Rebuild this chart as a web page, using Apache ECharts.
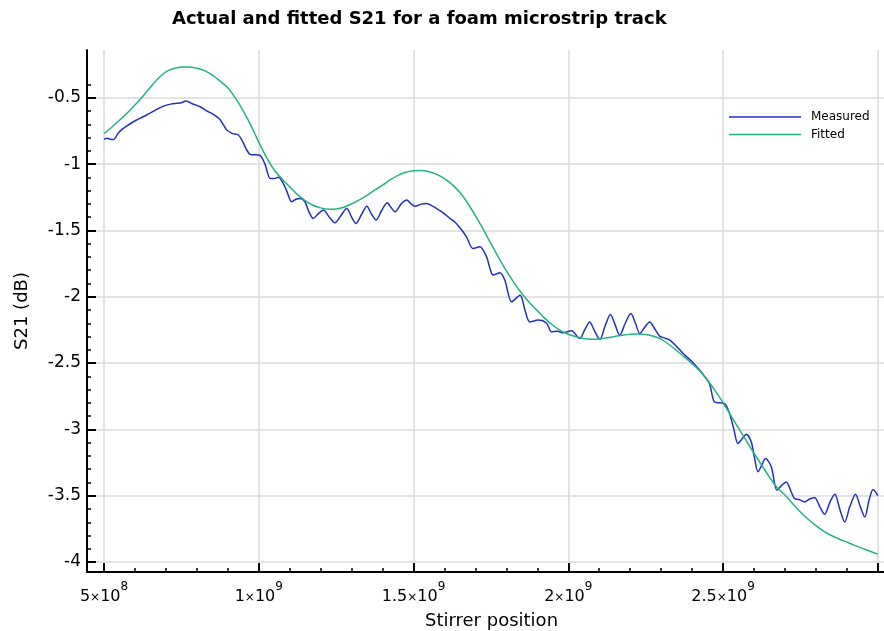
<!DOCTYPE html>
<html>
<head>
<meta charset="utf-8">
<script src="https://cdn.jsdelivr.net/npm/echarts@6/dist/echarts.min.js"></script>
<style>
  html, body { margin: 0; background: #fff; }
  #main { width: 884px; height: 631px; }
</style>
</head>
<body>
<div id="main"></div>
<script>
// stirrer position in units of 1e8
var measPos = [5.00, 5.10, 5.20, 5.31, 5.45, 5.58, 5.75, 5.95, 6.15, 6.38, 6.65, 6.92, 7.15, 7.35, 7.50, 7.65, 7.85,
  8.10, 8.30, 8.53, 8.75, 8.97, 9.15, 9.34, 9.50, 9.61, 9.75, 9.90, 10.04, 10.20, 10.37, 10.50, 10.63, 10.74, 10.90,
  11.06, 11.20, 11.33, 11.49, 11.62, 11.76, 11.92, 12.09, 12.28, 12.46, 12.65, 12.84, 13.00, 13.14, 13.32, 13.49,
  13.65, 13.79, 13.97, 14.15, 14.28, 14.40, 14.60, 14.78, 14.92, 15.05, 15.25, 15.42, 15.60, 15.75, 16.00, 16.18,
  16.35, 16.50, 16.71, 16.92, 17.14, 17.36, 17.47, 17.57, 17.79, 17.95, 18.17, 18.44, 18.60, 18.76, 19.03, 19.30,
  19.46, 19.65, 19.83, 20.10, 20.37, 20.53, 20.69, 20.85, 21.02, 21.19, 21.36, 21.51, 21.66, 21.84, 22.02, 22.17,
  22.31, 22.47, 22.63, 22.80, 22.95, 23.10, 23.28, 23.50, 23.71, 24.00, 24.24, 24.40, 24.56, 24.72, 24.88, 25.05,
  25.21, 25.35, 25.48, 25.62, 25.75, 25.91, 26.02, 26.13, 26.25, 26.37, 26.56, 26.74, 26.90, 27.04, 27.20, 27.31,
  27.47, 27.63, 27.80, 27.96, 28.12, 28.28, 28.45, 28.61, 28.77, 28.93, 29.10, 29.28, 29.43, 29.58, 29.72, 29.85, 30.00];
var measS21 = [-0.814, -0.806, -0.812, -0.814, -0.77, -0.738, -0.71, -0.681, -0.655, -0.630, -0.595, -0.563, -0.548, -0.542, -0.538, -0.525, -0.545,
  -0.568, -0.597, -0.625, -0.665, -0.744, -0.770, -0.781, -0.84, -0.894, -0.930, -0.930, -0.935, -1.00, -1.108, -1.108, -1.10, -1.125, -1.20,
  -1.284, -1.265, -1.259, -1.284, -1.36, -1.41, -1.375, -1.347, -1.40, -1.443, -1.39, -1.335, -1.40, -1.447, -1.38, -1.318,
  -1.38, -1.422, -1.35, -1.292, -1.33, -1.36, -1.30, -1.271, -1.30, -1.318, -1.302, -1.297, -1.315, -1.335, -1.375, -1.41,
  -1.44, -1.48, -1.548, -1.636, -1.624, -1.70, -1.787, -1.837, -1.82, -1.875, -2.038, -1.988, -2.10, -2.19, -2.176, -2.20,
  -2.265, -2.26, -2.272, -2.257, -2.315, -2.25, -2.19, -2.26, -2.322, -2.22, -2.133, -2.21, -2.29, -2.20, -2.126, -2.20,
  -2.277, -2.23, -2.19, -2.245, -2.297, -2.31, -2.327, -2.375, -2.428, -2.49, -2.553, -2.60, -2.654, -2.793, -2.80, -2.805,
  -2.88, -3.00, -3.106, -3.07, -3.036, -3.094, -3.22, -3.32, -3.27, -3.22, -3.283, -3.459, -3.42, -3.396, -3.47, -3.521,
  -3.53, -3.547, -3.525, -3.516, -3.58, -3.64, -3.55, -3.489, -3.60, -3.698, -3.58, -3.489, -3.58, -3.66, -3.53, -3.453, -3.50];

var fitPos = [5.00, 5.25, 5.50, 5.75, 6.00, 6.25, 6.50, 6.75, 7.00, 7.25, 7.50, 7.75, 8.00, 8.25, 8.50, 8.75,
  9.00, 9.25, 9.50, 9.75, 10.00, 10.25, 10.50, 10.75, 11.00, 11.25, 11.50, 11.75, 12.00, 12.25, 12.50, 12.75,
  13.00, 13.25, 13.50, 13.75, 14.00, 14.25, 14.50, 14.75, 15.00, 15.25, 15.50, 15.75, 16.00, 16.25, 16.50, 16.75,
  17.00, 17.25, 17.50, 17.75, 18.00, 18.25, 18.50, 18.75, 19.00, 19.25, 19.50, 19.75, 20.00, 20.25, 20.50, 20.75,
  21.00, 21.25, 21.50, 21.75, 22.00, 22.25, 22.50, 22.75, 23.00, 23.25, 23.50, 23.75, 24.00, 24.25, 24.50, 24.75,
  25.00, 25.25, 25.50, 25.75, 26.00, 26.25, 26.50, 26.75, 27.00, 27.25, 27.50, 27.75, 28.00, 28.25, 28.50, 28.75,
  29.00, 29.25, 29.50, 29.75, 30.00];
var fitS21 = [-0.770, -0.722, -0.670, -0.615, -0.555, -0.490, -0.420, -0.355, -0.305, -0.280, -0.268, -0.268, -0.278, -0.295, -0.330, -0.375,
  -0.425, -0.505, -0.600, -0.710, -0.835, -0.950, -1.045, -1.112, -1.172, -1.230, -1.275, -1.310, -1.330, -1.340, -1.338, -1.325,
  -1.300, -1.270, -1.235, -1.195, -1.158, -1.118, -1.085, -1.062, -1.050, -1.048, -1.058, -1.078, -1.110, -1.155, -1.215, -1.295,
  -1.390, -1.490, -1.600, -1.705, -1.805, -1.895, -1.975, -2.045, -2.105, -2.165, -2.215, -2.255, -2.283, -2.302, -2.315, -2.320,
  -2.318, -2.310, -2.300, -2.290, -2.283, -2.280, -2.285, -2.298, -2.320, -2.360, -2.405, -2.455, -2.505, -2.560, -2.630, -2.710,
  -2.800, -2.895, -2.990, -3.085, -3.180, -3.270, -3.360, -3.440, -3.495, -3.560, -3.622, -3.677, -3.725, -3.766, -3.800, -3.826,
  -3.850, -3.874, -3.897, -3.918, -3.940];

// axis ticks
var xMajor = [5e8, 1e9, 1.5e9, 2e9, 2.5e9, 3e9];
var xMinor = [6e8, 7e8, 8e8, 9e8, 11e8, 12e8, 13e8, 14e8, 16e8, 17e8, 18e8, 19e8,
  21e8, 22e8, 23e8, 24e8, 26e8, 27e8, 28e8, 29e8];
var xLabelVals = [5e8, 1e9, 1.5e9, 2e9, 2.5e9];
var xLabelMant = ['5', '1', '1.5', '2', '2.5'];
var xLabelExp = ['8', '9', '9', '9', '9'];
var yMajor = [-4, -3.5, -3, -2.5, -2, -1.5, -1, -0.5];
var yMinor = [-3.9, -3.8, -3.7, -3.6, -3.4, -3.3, -3.2, -3.1, -2.9, -2.8, -2.7, -2.6,
  -2.4, -2.3, -2.2, -2.1, -1.9, -1.8, -1.7, -1.6, -1.4, -1.3, -1.2, -1.1,
  -0.9, -0.8, -0.7, -0.6, -0.4];
var yLabels = ['-4', '-3.5', '-3', '-2.5', '-2', '-1.5', '-1', '-0.5'];

var FONT = 'DejaVu Sans, sans-serif';
var X_MIN = 4.45e8, X_MAX = 3.02e9, Y_MIN = -4.075, Y_MAX = -0.14;

function pairs(px, py) {
  return px.map(function (v, i) { return [v * 1e8, py[i]]; });
}

var chart = echarts.init(document.getElementById('main'), null, { renderer: 'canvas' });

chart.setOption({
  animation: false,
  backgroundColor: '#fff',
  title: {
    text: 'Actual and fitted S21 for a foam microstrip track',
    left: 172,
    top: 10,
    padding: 0,
    textStyle: { fontFamily: FONT, fontSize: 18, fontWeight: 'bold', color: '#000' }
  },
  legend: {
    orient: 'vertical',
    left: 729,
    top: 111,
    padding: 0,
    icon: 'rect',
    itemWidth: 72,
    itemHeight: 1.5,
    itemGap: 5.5,
    data: ['Measured', 'Fitted'],
    textStyle: { fontFamily: FONT, fontSize: 12, color: '#000', padding: [0, 0, 0, 5] }
  },
  grid: { left: 87, right: 0, top: 50, bottom: 59, containLabel: false, outerBoundsMode: 'none' },
  xAxis: [{
    type: 'value',
    position: 'bottom',
    min: X_MIN,
    max: X_MAX,
    name: 'Stirrer position',
    nameLocation: 'middle',
    nameGap: 40,
    nameTextStyle: { fontFamily: FONT, fontSize: 18, color: '#000', padding: [0, 0, 0, 12] },
    axisLine: { lineStyle: { color: '#000', width: 2 } },
    axisTick: { inside: true, length: 9, customValues: xMajor, lineStyle: { color: '#000', width: 2 } },
    axisLabel: {
      customValues: xLabelVals,
      margin: 9,
      formatter: function (v) {
        var i = xLabelVals.indexOf(v);
        return i < 0 ? '' : '{m|' + xLabelMant[i] + '}{x|×}{m|10}{s|' + xLabelExp[i] + '}';
      },
      rich: {
        m: { fontFamily: FONT, fontSize: 16, color: '#000', lineHeight: 24, verticalAlign: 'bottom' },
        x: { fontFamily: FONT, fontSize: 12, color: '#000', lineHeight: 24, verticalAlign: 'bottom', padding: [0, 0, 1, 0] },
        s: { fontFamily: FONT, fontSize: 12, color: '#000', lineHeight: 24, verticalAlign: 'top' }
      }
    },
    splitLine: { show: true, lineStyle: { color: '#dadada', width: 1.5 } }
  }, {
    type: 'value',
    position: 'bottom',
    min: X_MIN,
    max: X_MAX,
    axisLine: { show: false },
    axisTick: { inside: true, length: 4, customValues: xMinor, lineStyle: { color: '#000', width: 1.5 } },
    axisLabel: { show: false },
    splitLine: { show: false }
  }],
  yAxis: [{
    type: 'value',
    position: 'left',
    min: Y_MIN,
    max: Y_MAX,
    name: 'S21 (dB)',
    nameLocation: 'middle',
    nameRotate: 90,
    nameGap: 56,
    nameTextStyle: { fontFamily: FONT, fontSize: 18, color: '#000' },
    axisLine: { lineStyle: { color: '#000', width: 2 } },
    axisTick: { inside: true, length: 9, customValues: yMajor, lineStyle: { color: '#000', width: 2 } },
    axisLabel: {
      customValues: yMajor,
      margin: 6,
      fontFamily: FONT,
      fontSize: 17,
      color: '#000',
      formatter: function (v) {
        var i = yMajor.indexOf(v);
        return i < 0 ? '' : yLabels[i];
      }
    },
    splitLine: { show: true, lineStyle: { color: '#dadada', width: 1.5 } }
  }, {
    type: 'value',
    position: 'left',
    min: Y_MIN,
    max: Y_MAX,
    axisLine: { show: false },
    axisTick: { inside: true, length: 4, customValues: yMinor, lineStyle: { color: '#000', width: 1.5 } },
    axisLabel: { show: false },
    splitLine: { show: false }
  }],
  series: [{
    name: 'Measured',
    type: 'line',
    symbol: 'none',
    smooth: 0.3,
    color: '#2132b9',
    lineStyle: { width: 1.5, color: '#2132b9' },
    data: pairs(measPos, measS21)
  }, {
    name: 'Fitted',
    type: 'line',
    symbol: 'none',
    smooth: 0.3,
    color: '#21b387',
    lineStyle: { width: 1.5, color: '#21b387' },
    data: pairs(fitPos, fitS21)
  }]
});
</script>
</body>
</html>
